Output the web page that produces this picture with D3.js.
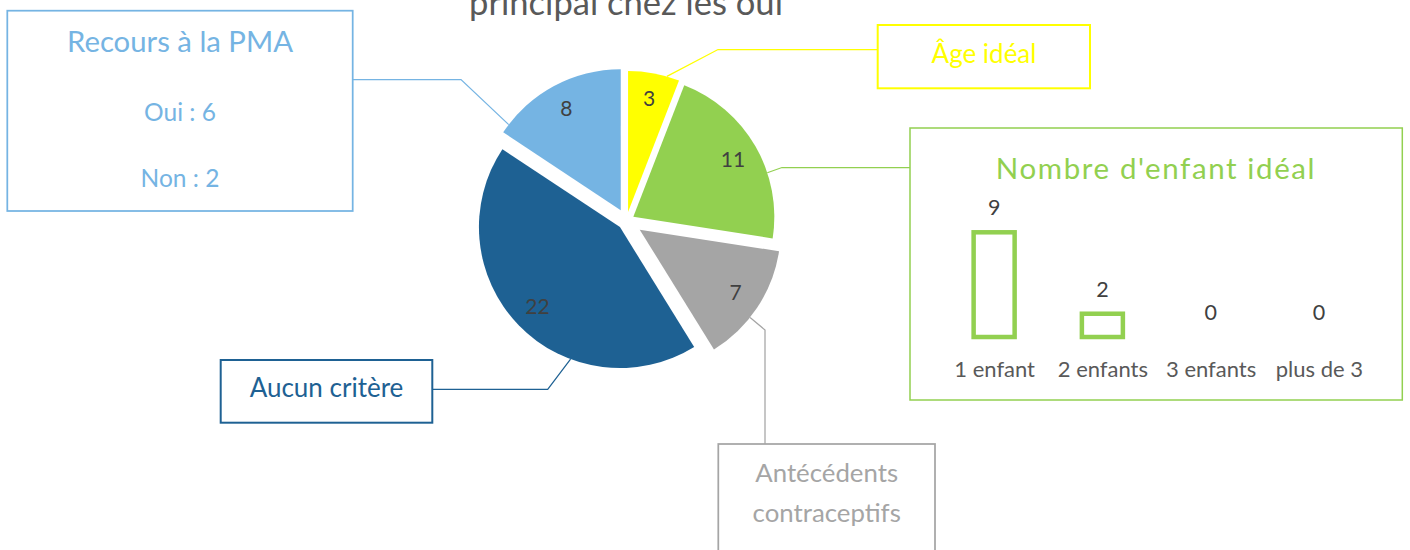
<!DOCTYPE html>
<html>
<head>
<meta charset="utf-8">
<script src="https://cdn.jsdelivr.net/npm/d3@7"></script>
<style>
  html, body { margin: 0; padding: 0; background: #fff; }
  svg { display: block; font-family: Lato, "Open Sans", sans-serif; }
</style>
</head>
<body>
<svg id="chart" width="1410" height="550"></svg>
<script>
// Main criterion among the "oui" answers
const categories = ["Âge idéal", "Nombre d'enfant idéal", "Antécédents contraceptifs", "Aucun critère", "Recours à la PMA"];
const counts = [3, 11, 7, 22, 8];

// Detail: ideal number of children
const childCategories = ["1 enfant", "2 enfants", "3 enfants", "plus de 3"];
const childCounts = [9, 2, 0, 0];

// Detail: use of assisted reproduction (PMA)
const pmaAnswers = ["Oui", "Non"];
const pmaCounts = [6, 2];

const titleLine = "principal chez les oui";

// ---- styling ----
const colors = ["#FFFF00", "#92D050", "#A5A5A5", "#1E6193", "#75B4E3"];
const explode = [9, 8, 16, 9, 12];
const center = { x: 626.4, y: 220.8 };
const radius = 141;

const svg = d3.select("#chart");

// title (second line, partly above the frame)
svg.append("text")
  .attr("x", 626).attr("y", 15)
  .attr("text-anchor", "middle")
  .attr("fill", "#595959")
  .style("font-size", "34.6px")
  .text(titleLine);

// ---- pie ----
const pie = d3.pie().sort(null).value(d => d)(counts);
const arc = d3.arc().innerRadius(0).outerRadius(radius);
const dir = a => [Math.sin(a), -Math.cos(a)];

const slices = svg.append("g").attr("transform", `translate(${center.x},${center.y})`);
const sliceG = slices.selectAll("g.slice")
  .data(pie)
  .join("g")
  .attr("class", "slice")
  .attr("transform", (d, i) => {
    const m = (d.startAngle + d.endAngle) / 2;
    const [dx, dy] = dir(m);
    return `translate(${dx * explode[i]},${dy * explode[i]})`;
  });

sliceG.append("path")
  .attr("d", arc)
  .attr("fill", (d, i) => colors[i]);

sliceG.append("text")
  .attr("x", d => dir((d.startAngle + d.endAngle) / 2)[0] * 115)
  .attr("y", d => dir((d.startAngle + d.endAngle) / 2)[1] * 115)
  .attr("dy", "0.35em")
  .attr("text-anchor", "middle")
  .attr("fill", "#404040")
  .style("font-size", "21px")
  .text(d => d.data);

// point on the rim of an exploded slice, at a given angle (degrees)
function rimPoint(i, deg) {
  const d = pie[i];
  const m = (d.startAngle + d.endAngle) / 2;
  const [ex, ey] = dir(m);
  const [rx, ry] = dir(deg * Math.PI / 180);
  return [center.x + ex * explode[i] + rx * radius, center.y + ey * explode[i] + ry * radius];
}

// ---- callout boxes with leader lines ----
const callouts = [
  { box: [877.7, 25, 212.3, 63.3], stroke: 2, rim: 16, path: [[718, 49.5], [877.7, 49.5]] },
  { box: [910, 128, 492.3, 272], stroke: 1.5, rim: 71.8, path: [[782, 167.5], [910, 167.5]] },
  { box: [718.3, 444, 216.7, 120], stroke: 1.75, rim: 128.5, path: [[765, 330], [765, 444]] },
  { box: [220.7, 360, 211.6, 62.7], stroke: 2, rim: 200.5, path: [[547.7, 389.3], [432.3, 389.3]] },
  { box: [7.3, 10.7, 345.4, 200.3], stroke: 1.75, rim: 307.4, path: [[461, 79.5], [352.7, 79.5]] }
];

const line = d3.line();
callouts.forEach((c, i) => {
  svg.append("path")
    .attr("d", line([rimPoint(i, c.rim), ...c.path]))
    .attr("fill", "none")
    .attr("stroke", colors[i])
    .attr("stroke-width", 1.25);
  svg.append("rect")
    .attr("x", c.box[0]).attr("y", c.box[1])
    .attr("width", c.box[2]).attr("height", c.box[3])
    .attr("fill", "#fff")
    .attr("stroke", colors[i])
    .attr("stroke-width", c.stroke);
});

function boxText(x, y, str, color, size, extra) {
  const t = svg.append("text")
    .attr("x", x).attr("y", y)
    .attr("text-anchor", "middle")
    .attr("fill", color)
    .style("font-size", size + "px")
    .text(str);
  if (extra) extra(t);
  return t;
}

// Âge idéal
boxText(984, 63.3, categories[0], colors[0], 26);

// Aucun critère
boxText(326.5, 397.3, categories[3], colors[3], 26);

// Antécédents contraceptifs (two lines)
const antWords = categories[2].split(" ");
boxText(826.7, 481.7, antWords[0], colors[2], 25.8);
boxText(826.7, 521.7, antWords[1], colors[2], 25.8);

// Recours à la PMA
boxText(180, 51.7, categories[4], colors[4], 29.3);
pmaAnswers.forEach((a, k) => {
  boxText(180, 120.7 + k * 66, `${a} : ${pmaCounts[k]}`, colors[4], 24.5);
});

// Nombre d'enfant idéal : mini bar chart
boxText(1156, 179.3, categories[1], colors[1], 29.5, t => t.style("letter-spacing", "1.6px"));

const bx = d3.scalePoint().domain(childCategories).range([940, 1373]).padding(0.5);
const by = d3.scaleLinear().domain([0, 9]).range([337, 232.3]);
const barW = 41;

svg.append("g")
  .selectAll("rect")
  .data(childCategories.map((c, i) => ({ c, v: childCounts[i] })).filter(d => d.v > 0))
  .join("rect")
  .attr("x", d => bx(d.c) - barW / 2)
  .attr("y", d => by(d.v))
  .attr("width", barW)
  .attr("height", d => by(0) - by(d.v))
  .attr("fill", "none")
  .attr("stroke", colors[1])
  .attr("stroke-width", 4.5);

svg.append("g")
  .selectAll("text")
  .data(childCategories.map((c, i) => ({ c, v: childCounts[i] })))
  .join("text")
  .attr("x", d => bx(d.c))
  .attr("y", d => by(d.v) - 17)
  .attr("text-anchor", "middle")
  .attr("fill", "#404040")
  .style("font-size", "21.5px")
  .text(d => d.v);

const xAxis = svg.append("g")
  .attr("transform", `translate(0,${by(0)})`)
  .call(d3.axisBottom(bx).tickSize(0).tickPadding(0));
xAxis.select(".domain").remove();
xAxis.selectAll("text")
  .attr("y", 39.7)
  .attr("dy", null)
  .attr("fill", "#595959")
  .style("font-size", "22px")
  .style("font-family", "Lato, 'Open Sans', sans-serif");
</script>
</body>
</html>
